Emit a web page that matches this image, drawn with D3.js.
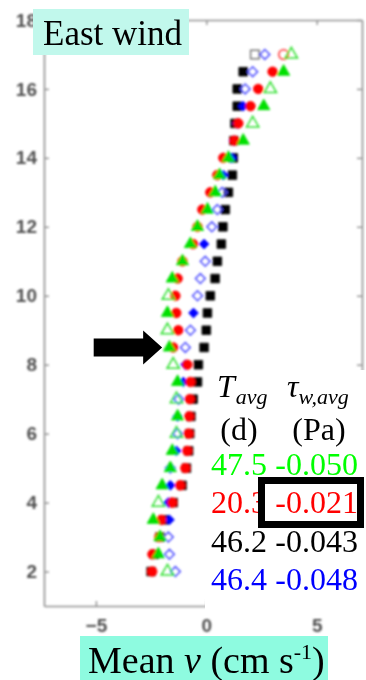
<!DOCTYPE html>
<html>
<head>
<meta charset="utf-8">
<script src="https://cdn.jsdelivr.net/npm/d3@7"></script>
<style>
  html, body { margin: 0; padding: 0; background: #fff; }
  svg { display: block; }
</style>
</head>
<body>
<svg id="chart" width="366" height="680"></svg>
<script>
// Depth above bed (m), one row of markers every 0.5 m
const depths = [17, 16.5, 16, 15.5, 15, 14.5, 14, 13.5, 13, 12.5, 12, 11.5, 11, 10.5, 10, 9.5,
                9, 8.5, 8, 7.5, 7, 6.5, 6, 5.5, 5, 4.5, 4, 3.5, 3, 2.5, 2];

// Mean v (cm/s) for the four deployments
const vBlack = [2.2, 1.67, 1.4, 1.4, 1.3, 1.25, 1.22, 1.18, 1.0, 0.86, 0.75, 0.68, 0.5, 0.4, 0.18, 0.05,
                0.0, -0.1, -0.36, -0.4, -0.6, -0.7, -0.75, -0.8, -0.9, -1.1, -1.5, -1.9, -2.1, -2.35, -2.5];
const vBlue  = [2.65, 2.1, 1.76, 1.67, 1.4, 1.25, 1.15, 0.77, 0.72, 0.5, 0.25, -0.1, -0.05, -0.27, -0.4, -0.58,
                -0.72, -0.95, -0.95, -1.04, -1.25, -1.3, -1.3, -1.36, -1.63, -1.63, -1.72, -1.67, -1.72, -1.67, -1.4];
const vRed   = [3.5, 3.0, 2.35, 2.0, 1.45, 1.27, 0.77, 0.5, 0.18, -0.18, -0.4, -0.6, -1.08, -1.3, -1.4, -1.36,
                -1.27, -1.5, -0.86, -0.72, -0.75, -0.77, -0.8, -0.86, -0.95, -1.18, -1.54, -2.04, -2.13, -2.44, -2.45];
const vGreen = [3.85, 3.5, 2.9, 2.6, 2.1, 1.67, 1.0, 0.6, 0.4, 0.05, -0.4, -0.72, -1.08, -1.54, -1.72, -1.76,
                -1.76, -1.67, -1.5, -1.3, -1.35, -1.3, -1.35, -1.54, -1.63, -2.0, -2.17, -2.4, -2.1, -2.17, -1.76];

// 1 = filled marker, 0 = open marker
const fBlack = [0, 1, 1, 1, 1, 1, 1, 1, 1, 1, 1, 1, 1, 1, 1, 1, 1, 1, 1, 1, 1, 1, 1, 1, 1, 1, 1, 1, 1, 1, 1];
const fBlue  = [0, 0, 0, 1, 1, 1, 1, 1, 0, 0, 0, 1, 0, 0, 0, 1, 0, 0, 1, 1, 0, 1, 0, 1, 0, 1, 1, 1, 0, 0, 0];
const fRed   = [0, 1, 1, 1, 1, 1, 1, 1, 1, 1, 1, 1, 1, 1, 1, 1, 1, 1, 1, 1, 1, 1, 1, 1, 1, 1, 1, 1, 1, 1, 1];
const fGreen = [0, 1, 0, 1, 0, 1, 1, 1, 1, 1, 1, 1, 1, 1, 0, 1, 0, 1, 0, 1, 0, 1, 0, 1, 1, 1, 0, 1, 1, 1, 0];

const xTicks = [-5, 0, 5];
const yTicks = [2, 4, 6, 8, 10, 12, 14, 16, 18];

// Legend table: averaging period and mean wind stress per deployment
const tableT   = ["47.5", "20.3", "46.2", "46.4"];
const tableTau = ["-0.050", "-0.021", "-0.043", "-0.048"];
const tableColors = ["#00ff00", "#ff0000", "#000000", "#0000ff"];

const svg = d3.select("#chart");

const x = d3.scaleLinear().domain([-7.35, 7.05]).range([44, 362]);
const y = d3.scaleLinear().domain([1, 18]).range([606, 20]);

const defs = svg.append("defs");
defs.append("filter").attr("id", "soft")
  .attr("x", "-10%").attr("y", "-10%").attr("width", "120%").attr("height", "120%")
  .append("feGaussianBlur").attr("stdDeviation", 0.8);

const plot = svg.append("g").attr("filter", "url(#soft)");

// Axes box with inward ticks on all four sides
const axisColor = "#8f8f8f";
function styleAxis(g) {
  g.select(".domain").attr("stroke", axisColor).attr("stroke-width", 1.6);
  g.selectAll(".tick line").attr("stroke", axisColor).attr("stroke-width", 1.4);
  g.selectAll(".tick text")
    .attr("fill", "#505050")
    .attr("font-family", "'Liberation Sans', Arial, sans-serif")
    .attr("font-weight", "bold")
    .attr("font-size", 19);
}

plot.append("g").attr("transform", "translate(44,0)")
  .call(d3.axisLeft(y).tickValues(yTicks).tickSizeInner(-5).tickSizeOuter(0).tickPadding(7).tickFormat(d3.format("d")))
  .call(styleAxis);
plot.append("g").attr("transform", "translate(362,0)")
  .call(d3.axisRight(y).tickValues(yTicks).tickSizeInner(-5).tickSizeOuter(0).tickFormat(""))
  .call(styleAxis);
plot.append("g").attr("transform", "translate(0,20)")
  .call(d3.axisTop(x).tickValues(xTicks).tickSizeInner(-5).tickSizeOuter(0).tickFormat(""))
  .call(styleAxis);
plot.append("g").attr("transform", "translate(0,606)")
  .call(d3.axisBottom(x).tickValues(xTicks).tickSizeInner(-5).tickSizeOuter(0).tickPadding(13).tickFormat(d3.format("d")))
  .call(styleAxis);

// Profile markers
const series = [
  { v: vBlack, f: fBlack, color: "#000000", openColor: "#7a7a7a", shape: d3.symbolSquare,   size: 74 },
  { v: vBlue,  f: fBlue,  color: "#0000ff", openColor: "#5050ff", shape: d3.symbolDiamond2, size: 62 },
  { v: vRed,   f: fRed,   color: "#ff0000", openColor: "#ff3030", shape: d3.symbolCircle,   size: 72 },
  { v: vGreen, f: fGreen, color: "#00e000", openColor: "#30e030", shape: d3.symbolTriangle, size: 66 }
];

series.forEach(s => {
  const sym = d3.symbol().type(s.shape).size(s.size);
  plot.append("g").selectAll("path")
    .data(depths.map((d, i) => ({ d, v: s.v[i], filled: s.f[i] })))
    .join("path")
    .attr("d", sym)
    .attr("transform", p => `translate(${x(p.v)},${y(p.d)})`)
    .attr("fill", p => p.filled ? s.color : "none")
    .attr("stroke", p => p.filled ? s.color : s.openColor)
    .attr("stroke-width", p => p.filled ? 0.8 : 1.5);
});

// Arrow marking the 8.5 m level
const arrowY = y(8.5), arrowTip = x(-2.0), arrowTail = x(-5.1);
const shaftHalf = 9, headHalf = 17, headLen = 19;
svg.append("path")
  .attr("d", `M${arrowTail},${arrowY - shaftHalf} L${arrowTip - headLen},${arrowY - shaftHalf}
              L${arrowTip - headLen},${arrowY - headHalf} L${arrowTip},${arrowY}
              L${arrowTip - headLen},${arrowY + headHalf} L${arrowTip - headLen},${arrowY + shaftHalf}
              L${arrowTail},${arrowY + shaftHalf} Z`)
  .attr("fill", "#000");

// Table panel
svg.append("rect").attr("x", 205).attr("y", 370).attr("width", 161).attr("height", 243).attr("fill", "#fff");

const serif = "'Liberation Serif', 'Times New Roman', serif";
const head1 = svg.append("text").attr("font-family", serif).attr("font-style", "italic").attr("fill", "#000");
head1.append("tspan").attr("x", 217).attr("y", 397).attr("font-size", 32).text("T");
head1.append("tspan").attr("dx", 1).attr("y", 404).attr("font-size", 22).text("avg");
const head2 = svg.append("text").attr("font-family", serif).attr("font-style", "italic").attr("fill", "#000");
head2.append("tspan").attr("x", 287).attr("y", 397).attr("font-size", 32).text("τ");
head2.append("tspan").attr("dx", 0).attr("y", 404).attr("font-size", 22).text("w,avg");

svg.append("text").attr("x", 239).attr("y", 440).attr("text-anchor", "middle")
  .attr("font-family", serif).attr("font-size", 32).text("(d)");
svg.append("text").attr("x", 319).attr("y", 440).attr("text-anchor", "middle")
  .attr("font-family", serif).attr("font-size", 32).text("(Pa)");

const rowY = [475, 513, 552, 590];
svg.append("g").selectAll("text.t")
  .data(tableT).join("text")
  .attr("x", 211).attr("y", (d, i) => rowY[i])
  .attr("font-family", serif).attr("font-size", 32)
  .attr("fill", (d, i) => tableColors[i]).text(d => d);

// Highlight box around the weakest stress
svg.append("rect").attr("x", 261.5).attr("y", 480.5).attr("width", 99).attr("height", 44)
  .attr("fill", "#fff").attr("stroke", "#000").attr("stroke-width", 7);

svg.append("g").selectAll("text.tau")
  .data(tableTau).join("text")
  .attr("x", 358).attr("y", (d, i) => rowY[i]).attr("text-anchor", "end")
  .attr("font-family", serif).attr("font-size", 32)
  .attr("fill", (d, i) => tableColors[i]).text(d => d);

// Panel title
svg.append("rect").attr("x", 33).attr("y", 9).attr("width", 156).attr("height", 46).attr("fill", "#c1f8ec");
svg.append("text").attr("x", 43).attr("y", 45).attr("font-family", serif).attr("font-size", 35).text("East wind");

// X-axis title
svg.append("rect").attr("x", 80).attr("y", 636).attr("width", 248).attr("height", 44).attr("fill", "#8efbe0");
const xt = svg.append("text").attr("x", 88).attr("y", 673).attr("font-family", serif).attr("font-size", 38);
xt.append("tspan").text("Mean ");
xt.append("tspan").attr("font-style", "italic").text("v");
xt.append("tspan").text(" (cm s");
xt.append("tspan").attr("dy", -14).attr("font-size", 22).text("-1");
xt.append("tspan").attr("dy", 14).text(")");
</script>
</body>
</html>
